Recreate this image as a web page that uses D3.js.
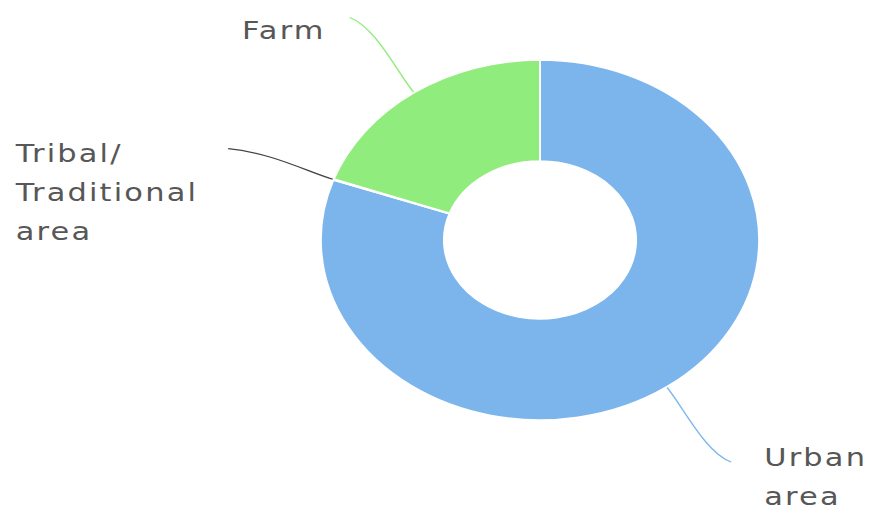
<!DOCTYPE html>
<html>
<head>
<meta charset="utf-8">
<script src="https://cdn.jsdelivr.net/npm/d3@7"></script>
<style>
  html, body { margin: 0; padding: 0; background: #fff; }
  svg { display: block; }
</style>
</head>
<body>
<svg id="chart" width="871" height="512"></svg>
<script>
// Land category shares (percent of total)
const categories = ["Urban area", "Tribal/ Traditional area", "Farm"];
const shares = [80.4, 0.1, 19.5];
const labelLines = [["Urban", "area"], ["Tribal/", "Traditional", "area"], ["Farm"]];
const colors = ["#7cb5ec", "#434348", "#90ed7d"];

const width = 871, height = 512;
const stretch = 1.217;            // horizontal stretch of the whole drawing
const cx = 540, cy = 240;
const outerR = 180, innerR = 79, labelR = 272;

// label text offsets from the connector end, in screen pixels
const labelLayout = [
  { dx: 33, dy: 4 },
  { dx: -29, dy: 13 },
  { dx: -24, dy: 22 }
];
const lineHeight = 39;

const svg = d3.select("#chart");
svg.append("rect").attr("width", width).attr("height", height).attr("fill", "#fff");

const g = svg.append("g")
  .attr("transform", `translate(${cx},${cy}) scale(${stretch},1)`);

const data = categories.map((c, i) => ({
  name: c, value: shares[i], lines: labelLines[i], color: colors[i], layout: labelLayout[i]
}));

const pie = d3.pie().value(d => d.value).sort(null);
const arcs = pie(data);
const arc = d3.arc().innerRadius(innerR).outerRadius(outerR);

const polar = (a, r) => [Math.sin(a) * r, -Math.cos(a) * r];

// soft connectors from labels to slices
g.selectAll("path.connector")
  .data(arcs)
  .join("path")
  .attr("class", "connector")
  .attr("fill", "none")
  .attr("stroke", d => d.data.color)
  .attr("stroke-width", 1.2)
  .attr("d", d => {
    const mid = (d.startAngle + d.endAngle) / 2;
    const S = polar(mid, outerR);
    const L = polar(mid, labelR);
    const C2 = polar(mid, outerR + 22);
    const C1 = [L[0] + (S[0] - L[0]) * 0.4, L[1] + (S[1] - L[1]) * 0.12];
    return `M${L[0]},${L[1]}C${C1[0]},${C1[1]} ${C2[0]},${C2[1]} ${S[0]},${S[1]}`;
  });

// slices
g.selectAll("path.slice")
  .data(arcs)
  .join("path")
  .attr("class", "slice")
  .attr("d", arc)
  .attr("fill", d => d.data.color)
  .attr("stroke", "#fff")
  .attr("stroke-width", 1.5)
  .attr("stroke-linejoin", "round");

// labels
arcs.forEach(d => {
  const mid = (d.startAngle + d.endAngle) / 2;
  const L = polar(mid, labelR);
  const right = L[0] > 0;
  const t = g.append("text")
    .attr("font-family", "'DejaVu Sans', Verdana, sans-serif")
    .attr("font-size", 25)
    .attr("letter-spacing", 1.8)
    .attr("fill", "#575757");
  d.data.lines.forEach((line, i) => {
    t.append("tspan")
      .attr("x", 0)
      .attr("y", i * lineHeight)
      .text(line);
  });
  const w = t.node().getBBox().width;
  const x = right ? L[0] + d.data.layout.dx / stretch
                  : L[0] + d.data.layout.dx / stretch - w;
  const y = L[1] + d.data.layout.dy;
  t.attr("transform", `translate(${x},${y})`);
});
</script>
</body>
</html>
